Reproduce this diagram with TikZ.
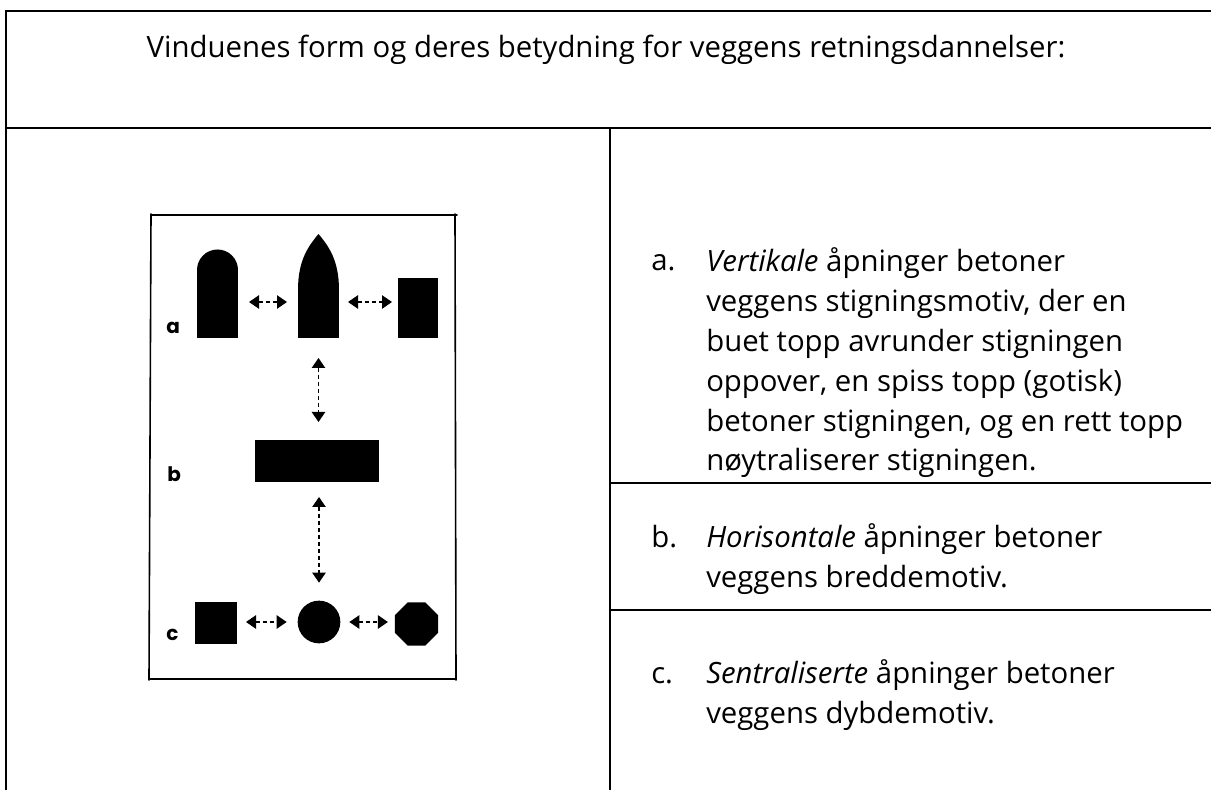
\documentclass[tikz,border=0pt]{standalone}
\usepackage{fontspec}
\setmainfont{Open Sans}
\newfontfamily\tagfont{Poppins}
\usetikzlibrary{arrows.meta,shapes.geometric,calc}

\tikzset{
  rule/.style={line width=1.5pt},
  frame/.style={line width=1.2pt, line cap=round},
  win/.style={fill=black, inner sep=0pt, outer sep=0pt},
  link/.style={line width=1.1pt, dash pattern=on 3pt off 2.3pt,
    {Triangle[length=7.5pt,width=10pt]}-{Triangle[length=7.5pt,width=10pt]},
    shorten <=7pt, shorten >=7pt},
  tag/.style={font=\tagfont\bfseries\fontsize{15}{15}\selectfont, inner sep=0pt, anchor=base west},
  item/.style={font=\fontsize{22}{30}\selectfont, align=left, inner sep=0pt, anchor=base west},
}

\begin{document}
\begin{tikzpicture}[x=0.75pt, y=0.75pt]
\useasboundingbox (0,0) rectangle (1211,790);

% table
\draw[rule] (6,0) -- (6,779) -- (1211,779);
\draw[rule] (6,662) -- (1211,662);
\draw[rule] (610,662) -- (610,0);
\draw[rule] (610,307) -- (1211,307);
\draw[rule] (610,180) -- (1211,180);

\node[item, anchor=base] (title) at (606,732)
    {Vinduenes form og deres betydning for veggens retningsdannelser:};

% sketch frame
\draw[frame] (151,575) -- (457,575)
             (455,576) -- (456,110)
             (149,111) -- (456,111)
             (151,576) -- (149,110);

% row a: arched, pointed and flat windows
\node[win, minimum width=30.75pt, minimum height=51pt] (a1) at (217.5,486) {};
\fill (a1.north west) arc[start angle=180, end angle=0, radius=20.5];
\node[win, minimum width=30.75pt, minimum height=36pt] (a2) at (318.5,476) {};
\fill (a2.north west) .. controls +(0,30) and +(-10,-12) .. ($(a2.north)+(0,56)$)
                      .. controls +(10,-12) and +(0,30) .. (a2.north east) -- cycle;
\node[win, minimum width=30pt, minimum height=45pt] (a3) at (418,482) {};
\coordinate (rowa) at (0,488);

% row b
\node[win, minimum width=93pt, minimum height=31.5pt] (b) at (317,329) {};

% row c: square, circle, octagon
\node[win, minimum size=31.5pt] (c1) at (216,167) {};
\node[win, circle, minimum size=32pt] (c2) at (319,168) {};
\node[win, regular polygon, regular polygon sides=8, minimum size=35pt] (c3) at (416.5,166) {};

\node[tag] (ka) at (166,456) {a};
\node[tag] (kb) at (167,308) {b};
\node[tag] (kc) at (166,150) {c};

% arrows
\draw[link, shorten <=8.25pt, shorten >=8.25pt] (a1.east |- rowa) -- (a2.west |- rowa);
\draw[link, shorten <=6.75pt, shorten >=4.5pt] (a2.east |- rowa) -- (a3.west |- rowa);
\draw[link, shorten <=15pt, shorten >=13.5pt] (a2.south) -- (a2.south |- b.north);
\draw[link, shorten <=11.25pt, shorten >=13.5pt] (c2.north |- b.south) -- (c2.north);
\draw[link, shorten <=6.75pt, shorten >=8.25pt] (c1.east |- c2.west) -- (c2.west);
\draw[link, shorten <=6.75pt, shorten >=5.25pt] (c2.east) -- (c2.east -| c3.west);

% descriptions (multi-line nodes sit on their last baseline)
\node[item] (la) at (651,519) {a.};
\node[item] (ta) at (706,319) {\textit{Vertikale} åpninger betoner\\
    veggens stigningsmotiv, der en\\
    buet topp avrunder stigningen\\
    oppover, en spiss topp (gotisk)\\
    betoner stigningen, og en rett topp\\
    nøytraliserer stigningen.};
\node[item] (lb) at (651,243) {b.};
\node[item] (tb) at (706,203) {\textit{Horisontale} åpninger betoner\\
    veggens breddemotiv.};
\node[item] (lc) at (651,107) {c.};
\node[item] (tc) at (706,67) {\textit{Sentraliserte} åpninger betoner\\
    veggens dybdemotiv.};
\end{tikzpicture}
\end{document}
